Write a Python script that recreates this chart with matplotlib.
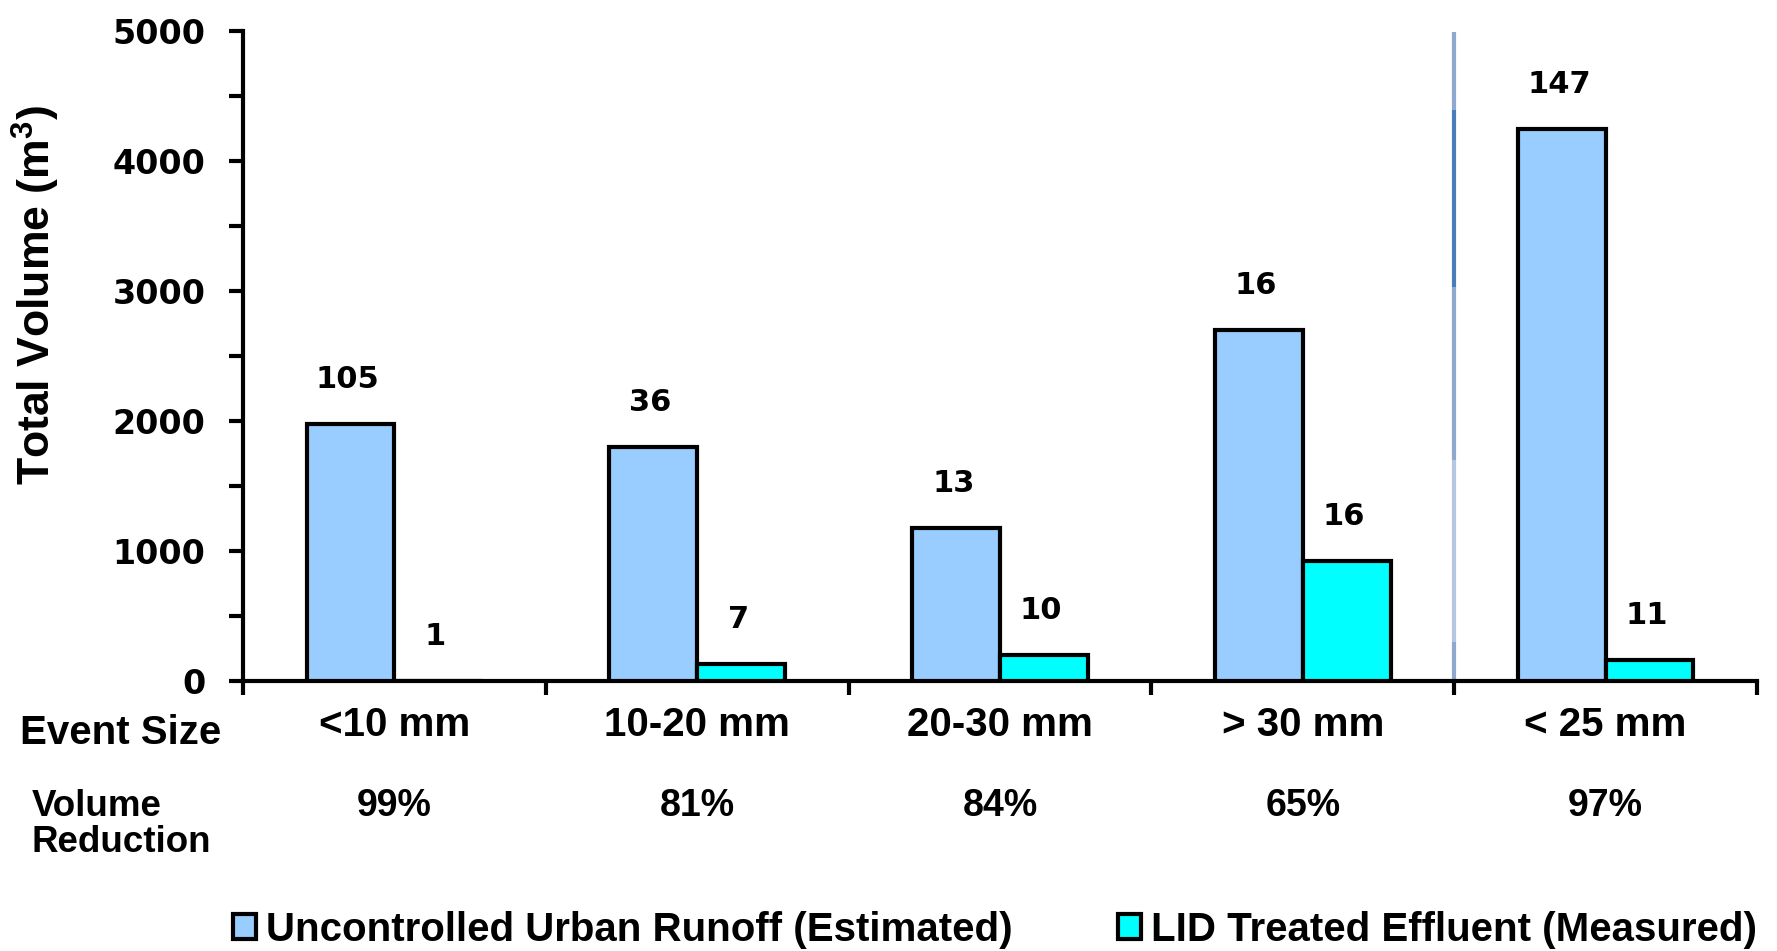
import matplotlib.pyplot as plt
import numpy as np
from matplotlib.patches import Patch

# event-size classes and the LID reduction achieved in each
event_sizes = ["<10 mm", "10-20 mm", "20-30 mm", "> 30 mm", "< 25 mm"]
reduction = ["99%", "81%", "84%", "65%", "97%"]

# total volumes (m3)
runoff_volume = [1980, 1800, 1180, 2700, 4250]
effluent_volume = [0, 130, 200, 920, 160]

# number of events behind each bar
runoff_events = [105, 36, 13, 16, 147]
effluent_events = [1, 7, 10, 16, 11]

blue = "#99CCFF"
cyan = "#00FFFF"
num_font = "DejaVu Sans"
txt_font = "Liberation Sans"

fig = plt.figure(figsize=(17.77, 9.51), dpi=100)
ax = fig.add_axes([243 / 1777, 1 - 681 / 951, 1514 / 1777, 650 / 951])

x = np.arange(len(event_sizes)) + 0.5
w = 0.29
b1 = ax.bar(x - w / 2, runoff_volume, w, color=blue, edgecolor="black", linewidth=3, zorder=3)
b2 = ax.bar(x + w / 2, effluent_volume, w, color=cyan, edgecolor="black", linewidth=3, zorder=3)

for bars, counts in ((b1, runoff_events), (b2, effluent_events)):
    for rect, n in zip(bars, counts):
        ax.annotate(str(n), (rect.get_x() + rect.get_width() / 2, rect.get_height()),
                    xytext=(-2, 32), textcoords="offset points", ha="center", va="center",
                    fontsize=22, fontweight="bold", family=num_font)

# separator between the event classes and the long-term total
sep = [(0, 300, "#8FA8D0"), (300, 1700, "#B4C6E0"), (1700, 3030, "#8FA8D0"),
       (3030, 4390, "#4A7EBB"), (4390, 4990, "#8FA8D0")]
for lo, hi, c in sep:
    ax.plot([4, 4], [lo, hi], color=c, lw=3, solid_capstyle="butt", zorder=2)

ax.set_xlim(0, 5)
ax.set_ylim(0, 5000)
for s in ("top", "right"):
    ax.spines[s].set_visible(False)
for s in ("left", "bottom"):
    ax.spines[s].set_linewidth(3)

ax.set_xticks(np.arange(0, 6))
ax.set_xticklabels([])
ax.set_yticks(np.arange(0, 5001, 1000))
ax.set_yticks(np.arange(500, 5000, 1000), minor=True)
ax.tick_params(axis="both", which="both", direction="out", length=10, width=3)
ax.tick_params(axis="y", which="major", pad=17, labelsize=24)
for lab in ax.get_yticklabels():
    lab.set_fontweight("bold")
    lab.set_family(num_font)

tr = ax.get_xaxis_transform()
for xi, lab, red in zip(x, event_sizes, reduction):
    ax.text(xi, -0.068, lab, transform=tr, ha="center", va="center",
            fontsize=29, fontweight="bold", family=txt_font)
    ax.text(xi, -0.192, red, transform=tr, ha="center", va="center",
            fontsize=27, fontweight="bold", family=txt_font)

fig.text(20 / 1777, 1 - 733 / 951, "Event Size", ha="left", va="center",
         fontsize=29, fontweight="bold", family=txt_font)
fig.text(32 / 1777, 1 - 806 / 951, "Volume", ha="left", va="center",
         fontsize=26.5, fontweight="bold", family=txt_font)
fig.text(32 / 1777, 1 - 843 / 951, "Reduction", ha="left", va="center",
         fontsize=26.5, fontweight="bold", family=txt_font)

fig.text(36 / 1777, 1 - 295 / 951, "Total Volume (m$^\\mathregular{3}$)", rotation=90,
         ha="center", va="center", fontsize=32, fontweight="bold", family=txt_font)

handles = [Patch(facecolor=blue, edgecolor="black", linewidth=3),
           Patch(facecolor=cyan, edgecolor="black", linewidth=3)]
fig.legend(handles, ["Uncontrolled Urban Runoff (Estimated)", "LID Treated Effluent (Measured)"],
           loc="center", bbox_to_anchor=(995 / 1777, 1 - 930 / 951), ncol=2, frameon=False,
           prop={"family": txt_font, "weight": "bold", "size": 29},
           handlelength=0.57, handleheight=0.57, handletextpad=0.25, columnspacing=2.6,
           borderpad=0)

fig.savefig("out.png", dpi=100)
